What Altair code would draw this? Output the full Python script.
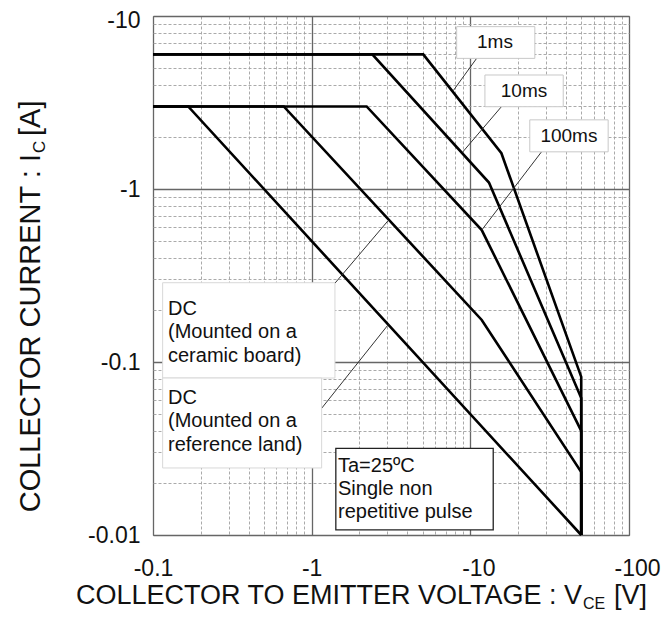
import altair as alt
import pandas as pd

FONT = "Liberation Sans"

# ---------------- data (magnitudes; axes are labelled negative) ----------------
curve_names = ["1ms", "10ms", "100ms", "DC ceramic board", "DC reference land"]
vce_1ms = [0.1, 5.05, 15.7, 50, 50]
ic_1ms = [6.0, 6.0, 1.61, 0.082, 0.01]
vce_10ms = [0.1, 2.41, 13.1, 50, 50]
ic_10ms = [6.0, 6.0, 1.09, 0.062, 0.01]
vce_100ms = [0.1, 2.22, 11.8, 50, 50]
ic_100ms = [3.0, 3.0, 0.579, 0.040, 0.01]
vce_dc_cer = [0.1, 0.667, 11.8, 50, 50]
ic_dc_cer = [3.0, 3.0, 0.175, 0.0231, 0.01]
vce_dc_ref = [0.1, 0.1667, 50]
ic_dc_ref = [3.0, 3.0, 0.01]

x_decades = [0.1, 1, 10, 100]
y_decades = [0.01, 0.1, 1, 10]

# annotation anchors, in data units
pulse_labels = ["1ms", "10ms", "100ms"]
pulse_label_v = [14.3, 21.8, 41.8]
pulse_label_i = [7.03, 3.69, 2.02]
pulse_box_v1 = [8.2, 12.36, 23.7]
pulse_box_v2 = [25.5, 38.5, 73.9]
pulse_box_i1 = [8.68, 4.56, 2.51]
pulse_box_i2 = [5.69, 2.99, 1.64]

leader_v1 = [10.96, 15.7, 28.1, 1.40, 1.156]
leader_i1 = [5.69, 2.99, 1.64, 0.285, 0.054]
leader_v2 = [7.8, 8.92, 11.8, 3.04, 3.04]
leader_i2 = [3.7, 1.63, 0.579, 0.658, 0.1645]

note_texts = ["DC\n(Mounted on a\nceramic board)",
              "DC\n(Mounted on a\nreference land)",
              "Ta=25ºC\nSingle non\nrepetitive pulse"]
note_v = [0.1243, 0.1243, 1.465]
note_i = [0.187, 0.0572, 0.02323]
note_box_v1 = [0.115, 0.115, 1.42]
note_box_v2 = [1.402, 1.156, 13.94]
note_box_i1 = [0.2873, 0.0808, 0.0317]
note_box_i2 = [0.0808, 0.0244, 0.0107]

# ---------------- tables ----------------
series = [(curve_names[0], vce_1ms, ic_1ms), (curve_names[1], vce_10ms, ic_10ms),
          (curve_names[2], vce_100ms, ic_100ms), (curve_names[3], vce_dc_cer, ic_dc_cer),
          (curve_names[4], vce_dc_ref, ic_dc_ref)]
rows = []
for name, vs, cs in series:
    for k, (v, c) in enumerate(zip(vs, cs)):
        rows.append({"curve": name, "seq": k, "V": v, "I": c})
curves_df = pd.DataFrame(rows)

leader_df = pd.DataFrame({"V": leader_v1, "I": leader_i1, "V2": leader_v2, "I2": leader_i2})
pulse_box_df = pd.DataFrame({"V": pulse_box_v1, "V2": pulse_box_v2, "I": pulse_box_i1, "I2": pulse_box_i2})
pulse_text_df = pd.DataFrame({"V": pulse_label_v, "I": pulse_label_i, "label": pulse_labels})
note_box_df = pd.DataFrame({"V": note_box_v1, "V2": note_box_v2, "I": note_box_i1, "I2": note_box_i2})
note_text_df = pd.DataFrame({"V": note_v, "I": note_i, "label": note_texts})


def log_grid(lo_exp, hi_exp):
    vals = []
    for e in range(lo_exp, hi_exp):
        for m in range(1, 10):
            vals.append(round(m * 10 ** e, 6))
    vals.append(round(10 ** hi_exp, 6))
    return vals


x_grid = log_grid(-1, 2)
y_grid = log_grid(-2, 1)

major = "abs(log(datum.value)/LN10 - round(log(datum.value)/LN10)) < 0.000001"
label_expr = f"({major}) ? '-' + datum.value : ''"

common_axis = dict(
    title=None, grid=True, ticks=False, tickSize=0, domain=False,
    gridColor={"condition": {"test": major, "value": "#666666"}, "value": "#a0a0a0"},
    gridWidth={"condition": {"test": major, "value": 1.3}, "value": 0.9},
    gridDash={"condition": {"test": major, "value": []}, "value": [3, 2]},
    labelFont=FONT, labelFontSize=23, labelColor="#111",
    labelFlush=False, labelOverlap=False, labelBound=False, labelExpr=label_expr,
)
x_axis = alt.Axis(values=x_grid, labelPadding=40, labelBaseline="alphabetic",
                  labelOffset={"condition": {"test": "datum.value >= 10", "value": 8}, "value": 0},
                  **common_axis)
y_axis = alt.Axis(values=y_grid, labelPadding=13, labelAlign="right", labelBaseline="middle",
                  labelOffset={"condition": {"test": "datum.value >= 10", "value": 4}, "value": 0},
                  **common_axis)

x_scale = alt.Scale(type="log", domain=[0.1, 100], nice=False)
y_scale = alt.Scale(type="log", domain=[0.01, 10], nice=False)


def X(f="V"):
    return alt.X(f"{f}:Q", scale=x_scale, axis=x_axis)


def Y(f="I"):
    return alt.Y(f"{f}:Q", scale=y_scale, axis=y_axis)


lines = alt.Chart(curves_df).mark_line(color="black", strokeWidth=2.6, strokeJoin="miter").encode(
    x=X(), y=Y(), detail="curve:N", order="seq:Q")

leaders = alt.Chart(leader_df).mark_rule(color="#333", strokeWidth=1).encode(
    x=X(), x2="V2:Q", y=Y(), y2="I2:Q")

pulse_boxes = alt.Chart(pulse_box_df).mark_rect(fill="white", stroke="#c8c8c8", strokeWidth=1).encode(
    x=X(), x2="V2:Q", y=Y(), y2="I2:Q")

pulse_text = alt.Chart(pulse_text_df).mark_text(
    font=FONT, fontSize=19, color="#111", align="center", baseline="middle").encode(
    x=X(), y=Y(), text="label:N")

dc_boxes = alt.Chart(note_box_df.iloc[:2]).mark_rect(fill="white", stroke="#d8d8d8", strokeWidth=1).encode(
    x=X(), x2="V2:Q", y=Y(), y2="I2:Q")

ta_box = alt.Chart(note_box_df.iloc[2:]).mark_rect(fill="white", stroke="#222", strokeWidth=1.3).encode(
    x=X(), x2="V2:Q", y=Y(), y2="I2:Q")

note_text = alt.Chart(note_text_df).mark_text(
    font=FONT, fontSize=20, color="#111", align="left", baseline="alphabetic",
    lineBreak="\n", lineHeight=23.3).encode(x=X(), y=Y(), text="label:N")


def txt(s, x, y, size, align="left", angle=0):
    kw = dict(font=FONT, fontSize=size, color="#111", align=align, baseline="alphabetic")
    if angle:
        kw["angle"] = angle
    return alt.Chart(pd.DataFrame({"t": [s]})).mark_text(**kw).encode(
        text="t:N", x=alt.value(x), y=alt.value(y))


# axis titles with subscripts (positions relative to the plot area)
xt_main = txt("COLLECTOR TO EMITTER VOLTAGE : V", 429, 588, 27, align="right")
xt_sub = txt("CE", 430, 593, 16)
xt_unit = txt("[V]", 461, 588, 27)

yt_main = txt("COLLECTOR CURRENT : I", -113, 138, 29, align="right", angle=270)
yt_sub = txt("C", -108, 137, 17, angle=270)
yt_unit = txt("[A]", -113, 120, 29, angle=270)

chart = alt.layer(
    lines, leaders, pulse_boxes, pulse_text, dc_boxes, ta_box, note_text,
    xt_main, xt_sub, xt_unit, yt_main, yt_sub, yt_unit,
).properties(
    width=476, height=519,
    autosize=alt.AutoSizeParams(type="none"),
    padding={"left": 145, "top": 8, "right": 32, "bottom": 76},
    background="white",
).configure_view(stroke="#777", strokeWidth=1)

chart.save("out.html", embed_options={"renderer": "svg", "actions": False})
